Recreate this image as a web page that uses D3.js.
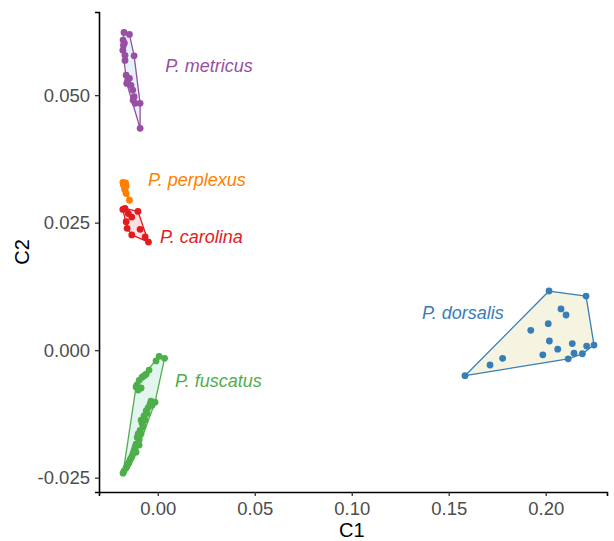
<!DOCTYPE html>
<html>
<head>
<meta charset="utf-8">
<script src="https://cdn.jsdelivr.net/npm/d3@7"></script>
<style>
  body { margin: 0; background: #fff; }
  svg text { font-family: "Liberation Sans", Arial, sans-serif; }
</style>
</head>
<body>
<div id="chart"></div>
<script>
// species names, label positions (data units) and colours
var species = ['P. metricus', 'P. perplexus', 'P. carolina', 'P. dorsalis', 'P. fuscatus'];
var labelX = [0.0038, -0.0050, 0.0012, 0.1362, 0.0089];
var labelY = [0.0557, 0.0335, 0.0222, 0.0073, -0.0059];
var colors = ['#984ea3', '#ff7f00', '#e41a1c', '#377eb8', '#4daf4a'];
var hullFills = ['#e3f2fb', '#fde9d6', '#fbe1e3', '#f4f4e1', '#e4f4ee'];

var xTicks = [0, 0.05, 0.10, 0.15, 0.20];
var yTicks = [-0.025, 0, 0.025, 0.05];

// C1 / C2 scores per specimen
var metricus = [
  [-0.0174, 0.0623], [-0.0146, 0.0619], [-0.0179, 0.0608], [-0.0177, 0.0598],
  [-0.0180, 0.0588], [-0.0169, 0.0578], [-0.0122, 0.0577], [-0.0169, 0.0568],
  [-0.0163, 0.0539], [-0.0146, 0.0533], [-0.0160, 0.0523], [-0.0138, 0.0519],
  [-0.0129, 0.0510], [-0.0122, 0.0497], [-0.0127, 0.0490], [-0.0117, 0.0484],
  [-0.0091, 0.0484], [-0.0091, 0.0435], [-0.0172, 0.0602], [-0.0155, 0.0529]
];
var perplexus = [
  [-0.0180, 0.0329], [-0.0166, 0.0328], [-0.0177, 0.0324], [-0.0163, 0.0322],
  [-0.0171, 0.0316], [-0.0169, 0.0314], [-0.0163, 0.0307], [-0.0146, 0.0294]
];
var carolina = [
  [-0.0180, 0.0276], [-0.0169, 0.0278], [-0.0152, 0.0268], [-0.0102, 0.0272],
  [-0.0134, 0.0261], [-0.0163, 0.0252], [-0.0158, 0.0239], [-0.0091, 0.0237],
  [-0.0134, 0.0226], [-0.0065, 0.0222], [-0.0048, 0.0212]
];
var dorsalis = [
  [0.1584, -0.0050], [0.1713, -0.0029], [0.1778, -0.0016], [0.2017, 0.0116],
  [0.2208, 0.0106], [0.2249, 0.0010], [0.2211, 0.0008], [0.2189, -0.0007],
  [0.2146, -0.0006], [0.2116, -0.0017], [0.2137, 0.0013], [0.2062, 0.0002],
  [0.2019, 0.0018], [0.1985, -0.0009], [0.1923, 0.0039], [0.2013, 0.0052],
  [0.2079, 0.0081], [0.2105, 0.0069]
];
var fuscatus = [
  [0.0007, -0.0012], [0.0035, -0.0016], [-0.0009, -0.0021], [-0.0045, -0.0039],
  [-0.0060, -0.0047], [-0.0081, -0.0053], [-0.0096, -0.0059], [-0.0107, -0.0068],
  [-0.0101, -0.0078], [-0.0086, -0.0074], [-0.0014, -0.0102], [-0.0029, -0.0108],
  [-0.0040, -0.0106], [-0.0050, -0.0113], [-0.0060, -0.0119], [-0.0071, -0.0129],
  [-0.0086, -0.0137], [-0.0065, -0.0137], [-0.0076, -0.0150], [-0.0091, -0.0157],
  [-0.0101, -0.0164], [-0.0086, -0.0164], [-0.0096, -0.0176], [-0.0112, -0.0184],
  [-0.0096, -0.0186], [-0.0122, -0.0196], [-0.0112, -0.0200], [-0.0133, -0.0208],
  [-0.0143, -0.0215], [-0.0153, -0.0223], [-0.0164, -0.0231], [-0.0174, -0.0237],
  [-0.0179, -0.0241], [-0.0081, -0.0143], [-0.0106, -0.0171], [-0.0117, -0.0190],
  [-0.0128, -0.0203], [-0.0148, -0.0220], [-0.0055, -0.0124], [-0.0112, -0.0072],
  [-0.0035, -0.0100], [-0.0070, -0.0050], [-0.0138, -0.0212], [-0.0159, -0.0228]
];
var groups = [metricus, perplexus, carolina, dorsalis, fuscatus];

var width = 614, height = 541;
var margin = {top: 12, right: 7, bottom: 49, left: 99};

// ascii hyphen for negatives, like the source figure
var fmt = d3.formatLocale({decimal: '.', thousands: ',', grouping: [3], currency: ['', ''], minus: '-'});

var svg = d3.select('#chart').append('svg')
    .attr('width', width)
    .attr('height', height);

var x = d3.scaleLinear()
    .domain([-0.0303, 0.2316])
    .range([margin.left, width - margin.right]);
var y = d3.scaleLinear()
    .domain([-0.0278, 0.0663])
    .range([height - margin.bottom, margin.top]);

// hulls first, then points on top
var plot = svg.append('g');

groups.forEach(function(pts, i){
    var hull = d3.polygonHull(pts.map(function(d){ return [x(d[0]), y(d[1])]; }));
    if(hull){
        plot.append('path')
            .attr('d', 'M' + hull.join('L') + 'Z')
            .attr('fill', hullFills[i])
            .attr('stroke', colors[i])
            .attr('stroke-width', 1.3)
            .attr('stroke-linejoin', 'round');
    }
});

groups.forEach(function(pts, i){
    plot.append('g').selectAll('circle')
        .data(pts)
        .enter().append('circle')
            .attr('cx', function(d){ return x(d[0]); })
            .attr('cy', function(d){ return y(d[1]); })
            .attr('r', 3.4)
            .attr('fill', colors[i]);
});

plot.selectAll('text.lab')
    .data(species)
    .enter().append('text')
        .attr('class', 'lab')
        .attr('x', function(d, i){ return x(labelX[i]); })
        .attr('y', function(d, i){ return y(labelY[i]); })
        .attr('dy', '0.35em')
        .attr('font-size', 18)
        .attr('font-style', 'italic')
        .attr('fill', function(d, i){ return colors[i]; })
        .text(function(d){ return d; });

// axes
var xAxis = svg.append('g')
    .attr('transform', 'translate(0,' + (height - margin.bottom) + ')')
    .call(d3.axisBottom(x).tickValues(xTicks).tickFormat(fmt.format('.2f')).tickSizeOuter(0).tickSize(4).tickPadding(6));
var yAxis = svg.append('g')
    .attr('transform', 'translate(' + margin.left + ',0)')
    .call(d3.axisLeft(y).tickValues(yTicks).tickFormat(fmt.format('.3f')).tickSizeOuter(0).tickSize(4).tickPadding(5));

[xAxis, yAxis].forEach(function(ax){
    ax.select('.domain').attr('stroke', '#000').attr('stroke-width', 1.6);
    ax.selectAll('.tick line').attr('stroke', '#333').attr('stroke-width', 1.3);
    ax.selectAll('.tick text')
        .attr('fill', '#4d4d4d')
        .attr('font-size', 18.5)
        .attr('font-family', '"Liberation Sans", Arial, sans-serif');
});

svg.append('text')
    .attr('x', x(0.10))
    .attr('y', 537)
    .attr('text-anchor', 'middle')
    .attr('font-size', 20)
    .text('C1');

svg.append('text')
    .attr('transform', 'translate(29,' + ((margin.top + height - margin.bottom) / 2) + ') rotate(-90)')
    .attr('text-anchor', 'middle')
    .attr('font-size', 20)
    .text('C2');
</script>
</body>
</html>
